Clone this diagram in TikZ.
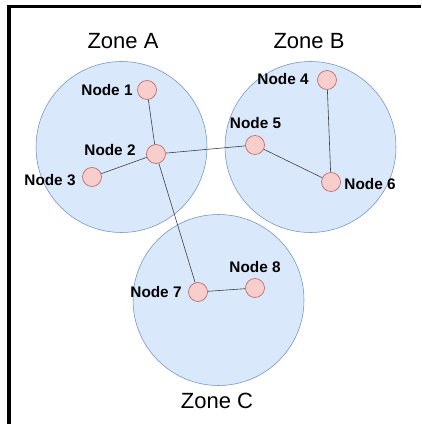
\documentclass[tikz,border=0pt]{standalone}
\usepackage{fontspec}
\setmainfont{Liberation Sans}
\definecolor{zonefill}{HTML}{DAE8FC}
\definecolor{zoneline}{HTML}{6C8EBF}
\definecolor{hostfill}{HTML}{F8CECC}
\definecolor{hostline}{HTML}{B85450}
\tikzset{
  zone/.style={draw=zoneline, fill=zonefill, circle, minimum size=128.25pt, inner sep=0pt, line width=0.4pt},
  host/.style={draw=hostline, fill=hostfill, circle, minimum size=14.25pt, inner sep=0pt, line width=0.4pt},
  hostlabel/.style={font=\bfseries\fontsize{11.5}{13}\selectfont, inner sep=0pt},
  zonelabel/.style={font=\fontsize{16.5}{19}\selectfont, inner sep=0pt},
  link/.style={draw=black!75, line width=0.45pt}
}
\begin{document}
\begin{tikzpicture}[x=0.75pt, y=-0.75pt]
            \useasboundingbox (0,0) rectangle (421,424);
            \draw[line width=2.3pt] (421,6.5) -- (9,6.5) -- (9,424);

            \node[zone] (za) at (121.5,147) {};
            \node[zone] (zb) at (310.5,147) {};
            \node[zone] (zc) at (218.5,300) {};
            \node[zonelabel] (la) at (123,41) {Zone A};
            \node[zonelabel] (lb) at (309,41) {Zone B};
            \node[zonelabel] (lc) at (217,401) {Zone C};

            \node[host] (n1) at (147,90) {};
            \node[host] (n2) at (156,154) {};
            \node[host] (n3) at (92,177) {};
            \node[host] (n4) at (327,80) {};
            \node[host] (n5) at (255,145) {};
            \node[host] (n6) at (331,182) {};
            \node[host] (n7) at (198,292) {};
            \node[host] (n8) at (255,288) {};

            \node[hostlabel] (t1) at (107,90) {Node 1};
            \node[hostlabel] (t2) at (110,150) {Node 2};
            \node[hostlabel] (t3) at (50,180) {Node 3};
            \node[hostlabel] (t4) at (283,79) {Node 4};
            \node[hostlabel] (t5) at (255.5,123.5) {Node 5};
            \node[hostlabel] (t6) at (370,184) {Node 6};
            \node[hostlabel] (t7) at (156,292.5) {Node 7};
            \node[hostlabel] (t8) at (255,267.5) {Node 8};

            \draw[link] (n1) -- (n2);
            \draw[link] (n2) -- (n3);
            \draw[link] (n2) -- (n5);
            \draw[link] (n2) -- (n7);
            \draw[link] (n5) -- (n6);
            \draw[link] (n4) -- (n6);
            \draw[link] (n7) -- (n8);

        \end{tikzpicture}
\end{document}
